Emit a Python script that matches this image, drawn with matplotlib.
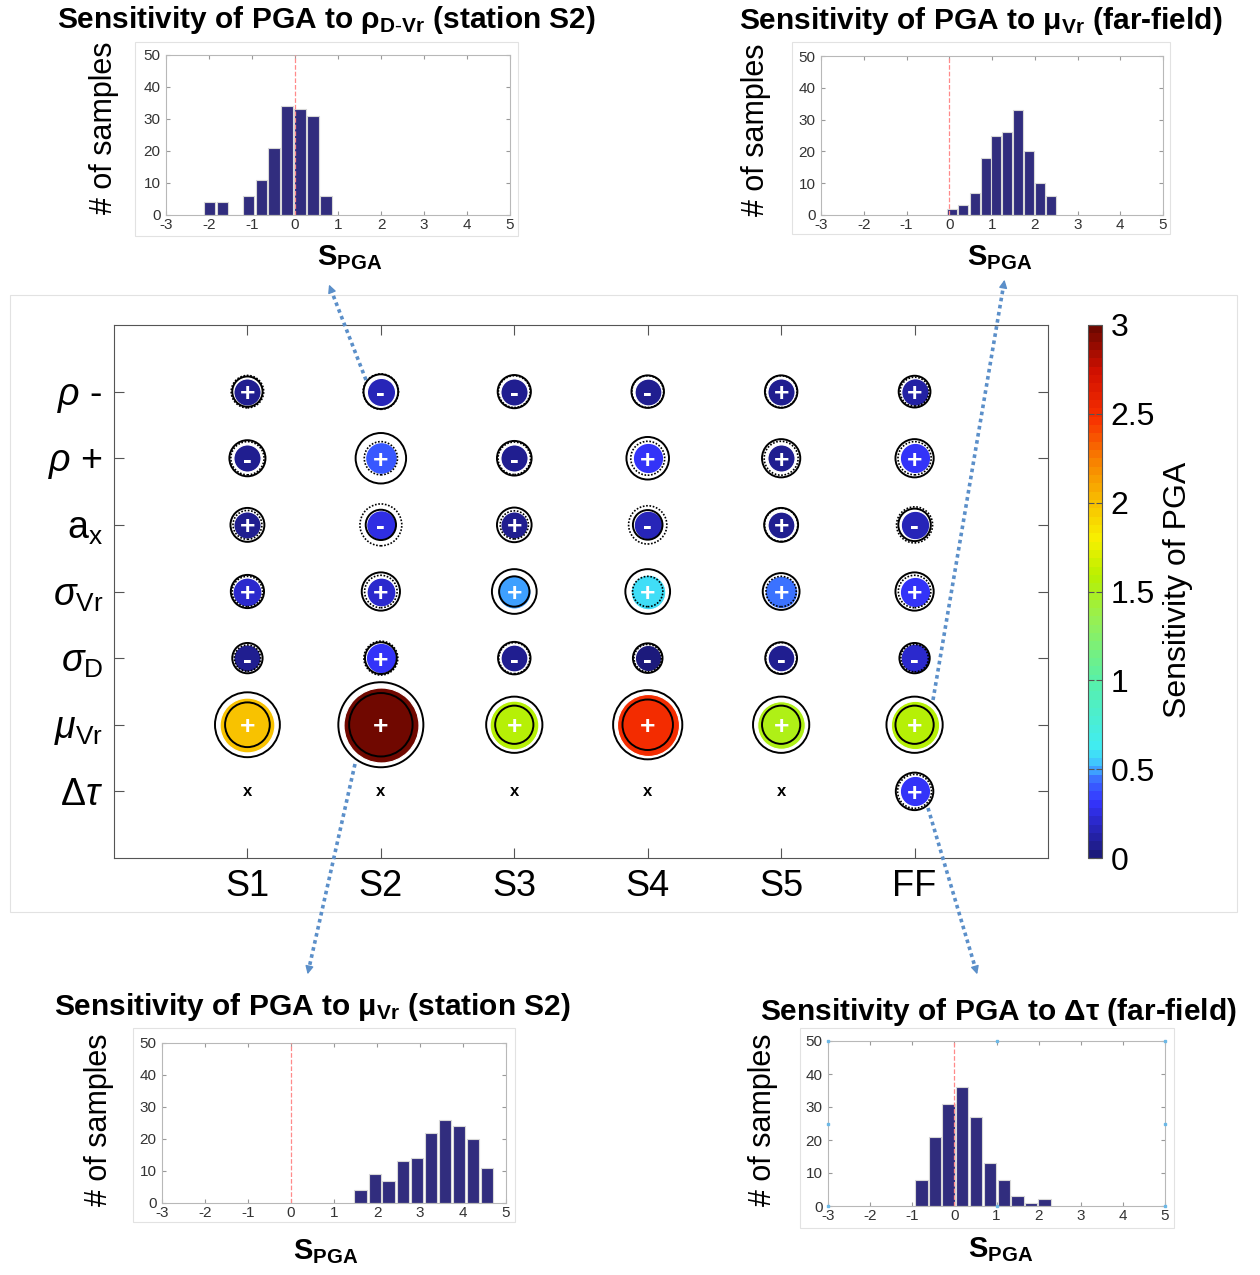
import numpy as np
import matplotlib
matplotlib.use("Agg")
from matplotlib import pyplot as plt
from matplotlib import patches as mpatches
from matplotlib.lines import Line2D
from matplotlib.colors import LinearSegmentedColormap, Normalize
from matplotlib.cm import ScalarMappable

plt.rcParams['font.family'] = 'Liberation Sans'
plt.rcParams['mathtext.fontset'] = 'custom'
plt.rcParams['mathtext.rm'] = 'Liberation Sans'
plt.rcParams['mathtext.it'] = 'Liberation Sans:italic'
plt.rcParams['mathtext.bf'] = 'Liberation Sans:bold'
plt.rcParams['mathtext.sf'] = 'Liberation Sans'
plt.rcParams['axes.unicode_minus'] = False

nan = np.nan

# --- data ---
stations = ["S1", "S2", "S3", "S4", "S5", "FF"]
params = [r"$\rho$ -", r"$\rho$ +", r"a$_\mathrm{x}$", r"$\sigma_\mathrm{Vr}$",
          r"$\sigma_\mathrm{D}$", r"$\mu_\mathrm{Vr}$", r"$\Delta\tau$"]

# mean sensitivity of PGA (signed), rows = params, cols = stations
sens_mean = [
    [0.08, -0.15, -0.08, -0.06, 0.08, 0.10],
    [-0.08, 0.40, -0.08, 0.30, 0.08, 0.30],
    [0.08, -0.25, 0.08, -0.18, 0.06, -0.17],
    [0.20, 0.20, 0.50, 0.60, 0.45, 0.30],
    [-0.08, 0.30, -0.06, -0.02, -0.05, -0.20],
    [2.00, 3.40, 1.58, 2.50, 1.50, 1.55],
    [nan, nan, nan, nan, nan, 0.30],
]
# mean - std
sens_lo = [
    [-0.45, -0.60, -0.50, -0.45, -0.40, -0.20],
    [-0.70, -0.50, -0.60, -0.55, -0.55, -0.50],
    [-0.20, -0.30, -0.15, -0.25, -0.50, -0.45],
    [-0.30, -0.45, 0.30, -0.30, -0.30, -0.45],
    [-0.30, -0.55, -0.45, -0.25, -0.40, -0.30],
    [1.30, 2.60, 0.85, 1.70, 0.85, 0.85],
    [nan, nan, nan, nan, nan, -0.55],
]
# mean + std
sens_hi = [
    [0.30, 0.65, 0.40, 0.40, 0.45, 0.40],
    [0.50, 1.70, 0.45, 1.15, 0.85, 0.85],
    [0.55, 1.10, 0.60, 0.85, 0.55, 0.70],
    [0.50, 0.85, 1.30, 1.30, 0.75, 0.85],
    [0.02, 0.40, 0.35, 0.10, 0.35, 0.10],
    [2.70, 4.10, 2.10, 3.00, 2.10, 2.10],
    [nan, nan, nan, nan, nan, 0.80],
]

# histograms: bin centers and counts
h1_centers = [-1.99, -1.69, -1.39, -1.08, -0.78, -0.49, -0.19, 0.11, 0.42, 0.72]
h1_counts = [4, 4, 0, 6, 11, 21, 34, 33, 31, 6]
h2_centers = [0.07, 0.32, 0.60, 0.85, 1.10, 1.35, 1.61, 1.86, 2.12, 2.38]
h2_counts = [2, 3, 7, 18, 25, 26, 33, 20, 10, 6]
h3_centers = [1.62, 1.95, 2.27, 2.60, 2.93, 3.26, 3.58, 3.91, 4.23, 4.56]
h3_counts = [4, 9, 7, 13, 14, 22, 26, 24, 20, 11]
h4_centers = [-0.78, -0.46, -0.14, 0.19, 0.51, 0.84, 1.17, 1.50, 1.82, 2.14]
h4_counts = [8, 21, 31, 36, 27, 13, 8, 3, 1, 2]

W, H = 1260, 1275
DPI = 100
fig = plt.figure(figsize=(W / DPI, H / DPI), dpi=DPI)


def box(l, t, r, b):
    return [l / W, 1 - b / H, (r - l) / W, (b - t) / H]


def fx(x):
    return x / W


def fy(y):
    return 1 - y / H


cmap = LinearSegmentedColormap.from_list("sens", [
    (0.00, "#1c1a7c"), (0.06, "#2a28c8"), (0.10, "#3434ff"), (0.14, "#3a6aff"),
    (0.17, "#40c0ff"), (0.20, "#40ecf4"), (0.33, "#58f0a8"), (0.45, "#98f050"),
    (0.53, "#b8f000"), (0.60, "#f8f000"), (0.67, "#f8c000"), (0.75, "#f88000"),
    (0.83, "#f83000"), (0.92, "#d01000"), (1.00, "#700800")], N=64)
norm = Normalize(0, 3)


def radius_px(v):
    return 13 + 7.2 * abs(v)


def msize(r):
    d = 2 * r * 72 / DPI
    return d * d


# faint panel frames
for l, t, r, b in [(10, 295, 1237, 912), (135, 42, 518, 236), (792, 42, 1170, 234),
                   (133, 1028, 515, 1222), (800, 1028, 1174, 1228)]:
    fig.add_artist(mpatches.Rectangle((fx(l), fy(b)), (r - l) / W, (b - t) / H,
                                      transform=fig.transFigure, fill=False,
                                      edgecolor="#e2e2e2", lw=0.8))

# --- main bubble chart ---
ax = fig.add_axes(box(114, 325, 1048, 858))
ax.set_xlim(0, 7)
ax.set_ylim(8, 0)
ax.set_xticks(range(1, 7))
ax.set_xticklabels(stations, fontsize=26)
ax.set_yticks(range(1, 8))
ax.set_yticklabels(params, fontsize=27)
ax.tick_params(direction="in", length=7, top=True, right=True, color="#555555")
ax.tick_params(axis="x", pad=8)
ax.tick_params(axis="y", pad=8)
for sp in ax.spines.values():
    sp.set_color("#555555")

for i in range(len(params)):
    for j in range(len(stations)):
        x, y = j + 1, i + 1
        m = sens_mean[i][j]
        if np.isnan(m):
            ax.text(x, y, "x", ha="center", va="center", fontsize=12,
                    fontweight="bold", color="black")
            continue
        ax.scatter([x], [y], s=msize(radius_px(m)), color=cmap(norm(min(abs(m), 3))),
                   edgecolors="white", linewidths=0.8, zorder=3)
        for v in (sens_lo[i][j], sens_hi[i][j]):
            same = np.sign(v) == np.sign(m)
            ax.scatter([x], [y], s=msize(radius_px(v)), facecolors="none",
                       edgecolors="black", linewidths=1.4 if same else 1.2,
                       linestyle="-" if same else (0, (1, 1)), zorder=4)
        ax.text(x, y, "+" if m > 0 else "-", ha="center", va="center_baseline",
                fontsize=19, fontweight="bold", color="white", zorder=5)

# colorbar
cax = fig.add_axes(box(1088, 325, 1102, 858))
cb = fig.colorbar(ScalarMappable(norm=norm, cmap=cmap), cax=cax)
cb.set_ticks(np.arange(0, 3.01, 0.5))
cb.set_ticklabels(["0", "0.5", "1", "1.5", "2", "2.5", "3"])
cax.tick_params(labelsize=23, direction="in", length=4, left=True, right=True,
                color="#555555", pad=6)
cb.outline.set_edgecolor("#555555")
fig.text(fx(1178), fy(590), "Sensitivity of PGA", rotation=90, fontsize=23,
         ha="center", va="center")


# --- histograms ---
def hist_panel(rect, centers, counts, width, title, tpos, xlpos, ylpos, handles=False):
    hx = fig.add_axes(box(*rect))
    hx.bar(centers, counts, width=width, color="#312d7e", edgecolor="#d8d8d8",
           linewidth=0.8, zorder=2)
    hx.axvline(0, color="#ff8a8a", ls="--", lw=0.9, zorder=3)
    hx.set_xlim(-3, 5)
    hx.set_ylim(0, 50)
    hx.set_xticks(range(-3, 6))
    hx.set_yticks(range(0, 51, 10))
    hx.tick_params(direction="in", length=3, top=True, right=True, color="#999999",
                   labelsize=11, labelcolor="#333333")
    hx.tick_params(axis="x", pad=2)
    hx.tick_params(axis="y", pad=4)
    for sp in hx.spines.values():
        sp.set_color("#b8b8b8")
    if handles:
        hx.plot([-3, 1, 5, -3, 5, -3, 1, 5], [50, 50, 50, 25, 25, 0, 0, 0], "s",
                color="#6cb8e6", ms=2, clip_on=False, zorder=5)
    fig.text(fx(tpos[0]), fy(tpos[1]), title, fontsize=21.5, fontweight="bold",
             ha="center", va="center")
    fig.text(fx(xlpos[0]), fy(xlpos[1]), r"$\mathbf{S_{PGA}}$", fontsize=21,
             ha="center", va="center")
    fig.text(fx(ylpos[0]), fy(ylpos[1]), "# of samples", rotation=90, fontsize=22,
             ha="center", va="center")
    return hx


hist_panel((166, 55, 510, 215), h1_centers, h1_counts, 0.27,
           r"Sensitivity of PGA to $\mathbf{\rho_{D\text{-}Vr}}$ (station S2)",
           (326, 20), (350, 258), (104, 128))
hist_panel((821, 56, 1163, 215), h2_centers, h2_counts, 0.23,
           r"Sensitivity of PGA to $\mathbf{\mu_{Vr}}$ (far-field)",
           (981, 21), (1000, 258), (756, 130))
hist_panel((162, 1043, 506, 1203), h3_centers, h3_counts, 0.29,
           r"Sensitivity of PGA to $\mathbf{\mu_{Vr}}$ (station S2)",
           (312, 1007), (326, 1252), (99, 1120))
hist_panel((828, 1041, 1165, 1206), h4_centers, h4_counts, 0.29,
           r"Sensitivity of PGA to $\mathbf{\Delta\tau}$ (far-field)",
           (998, 1012), (1001, 1250), (763, 1120), handles=True)

# --- dotted connector arrows ---
arrow_col = "#5b8fc9"
for (x0, y0), (x1, y1) in [((366, 380), (328, 282)), ((933, 700), (1005, 277)),
                           ((355, 764), (307, 977)), ((928, 808), (978, 977))]:
    dx, dy = x1 - x0, y1 - y0
    L = np.hypot(dx, dy)
    xa, ya = x1 - dx / L * 10, y1 - dy / L * 10
    fig.add_artist(Line2D([fx(x0), fx(xa)], [fy(y0), fy(ya)], transform=fig.transFigure,
                          color=arrow_col, lw=2.6, linestyle=(0, (1, 1))))
    fig.add_artist(mpatches.FancyArrowPatch((fx(xa), fy(ya)), (fx(x1), fy(y1)),
                                            transform=fig.transFigure,
                                            arrowstyle="-|>", mutation_scale=12,
                                            color=arrow_col, lw=1))

fig.savefig("out.png", dpi=DPI)
